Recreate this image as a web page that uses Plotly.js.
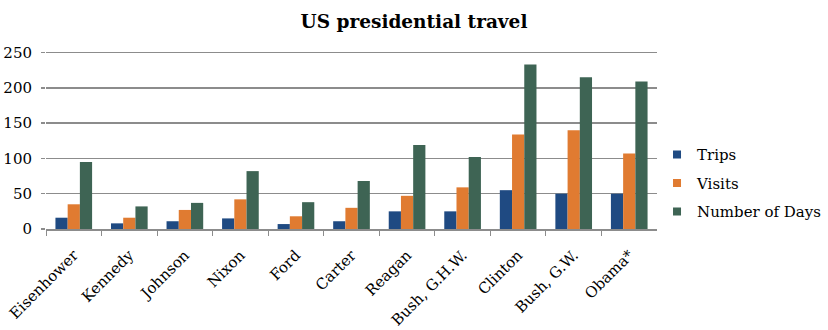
<!DOCTYPE html>
<html>
<head>
<meta charset="utf-8">
<script src="https://cdn.plot.ly/plotly-3.0.1.min.js"></script>
<style>
  html, body { margin: 0; padding: 0; background: #fff; }
  #chart { width: 828px; height: 330px; }
</style>
</head>
<body>
<div id="chart"></div>
<script>
// Presidents along the x axis
const presidents = ["Eisenhower", "Kennedy", "Johnson", "Nixon", "Ford", "Carter",
  "Reagan", "Bush, G.H.W.", "Clinton", "Bush, G.W.", "Obama*"];

// Series values per president
const trips = [16, 8, 11, 15, 7, 11, 25, 25, 55, 50, 50];
const visits = [35, 16, 27, 42, 18, 30, 47, 59, 134, 140, 107];
const days = [95, 32, 37, 82, 38, 68, 119, 102, 233, 215, 209];

const yTicks = [0, 50, 100, 150, 200, 250];

const FONT = "DejaVu Serif, serif";

const series = [
  { name: "Trips", y: trips, color: "#1f4a82" },
  { name: "Visits", y: visits, color: "#e07b31" },
  { name: "Number of Days", y: days, color: "#3e6454" }
];

// Bars (legend entries come from small square-marker keys below)
const bars = series.map(s => ({
  type: "bar",
  name: s.name,
  x: presidents,
  y: s.y,
  marker: { color: s.color, line: { width: 0 } },
  showlegend: false,
  hoverinfo: "x+y+name"
}));

const keys = series.map(s => ({
  type: "scatter",
  mode: "markers",
  name: s.name,
  legendgroup: s.name,
  x: [null],
  y: [null],
  marker: { symbol: "square", size: 8, color: s.color },
  showlegend: true,
  hoverinfo: "skip"
}));

const layout = {
  width: 828,
  height: 330,
  margin: { l: 46, r: 166, t: 49, b: 101, pad: 0 },
  paper_bgcolor: "#ffffff",
  plot_bgcolor: "#ffffff",
  font: { family: FONT, size: 14, color: "#000" },
  title: {
    text: "<b>US presidential travel</b>",
    font: { family: FONT, size: 18.5, color: "#000" },
    x: 0.5, xanchor: "center", xref: "container",
    y: 0.935, yanchor: "middle"
  },
  barmode: "group",
  bargap: 0.34,
  bargroupgap: 0,
  xaxis: {
    type: "category",
    tickangle: -45,
    tickson: "boundaries",
    ticks: "outside",
    ticklen: 5,
    tickwidth: 1,
    tickcolor: "#8c8c8c",
    showline: true,
    linecolor: "#8c8c8c",
    linewidth: 1.5,
    showgrid: false,
    ticklabelstandoff: 10,
    tickfont: { family: FONT, size: 15, color: "#000" },
    automargin: false
  },
  yaxis: {
    range: [0, 255],
    tickvals: yTicks,
    ticktext: yTicks.map(String),
    showline: false,
    ticks: "outside",
    ticklen: 4,
    tickwidth: 1.5,
    tickcolor: "#8c8c8c",
    showgrid: true,
    gridcolor: "#8c8c8c",
    gridwidth: 1.5,
    zeroline: false,
    ticklabelstandoff: 6,
    tickfont: { family: FONT, size: 15, color: "#000" },
    automargin: false
  },
  legend: {
    xref: "container", yref: "container",
    x: 0.7935, xanchor: "left",
    y: 0.445, yanchor: "middle",
    font: { family: FONT, size: 15, color: "#000" },
    itemwidth: 30,
    traceorder: "grouped",
    tracegroupgap: 6,
    bgcolor: "rgba(0,0,0,0)"
  },
  showlegend: true
};

Plotly.newPlot("chart", bars.concat(keys), layout, { displayModeBar: false, staticPlot: true });
</script>
</body>
</html>
